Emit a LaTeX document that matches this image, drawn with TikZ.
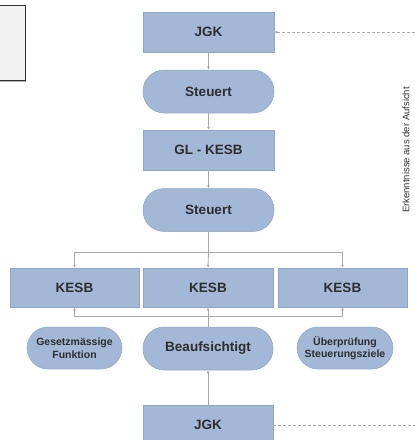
\documentclass[tikz,border=0pt]{standalone}
\usepackage{fontspec}
\setmainfont{Liberation Sans}
\usetikzlibrary{arrows.meta}
\definecolor{boxfill}{HTML}{A3B7D6}
\definecolor{boxedge}{HTML}{8FA6CA}
\definecolor{txt}{HTML}{2E2E2E}
\definecolor{conn}{HTML}{A8A8A8}
\begin{document}
\begin{tikzpicture}[x=1pt,y=-1pt,
  base/.style={fill=boxfill,draw=boxedge,line width=0.5pt,text=txt,inner sep=0pt,align=center,font=\fontsize{13.5}{15}\selectfont\bfseries},
  rbox/.style={base,rectangle,minimum width=131pt,minimum height=40pt},
  pill/.style={base,rectangle,rounded corners=21pt,minimum width=131pt,minimum height=43pt},
  smallpill/.style={base,rectangle,rounded corners=21pt,minimum width=96pt,minimum height=42pt,font=\fontsize{10.5}{12.5}\selectfont\bfseries},
  conline/.style={draw=conn,line width=0.8pt},
  arr/.style={conline,-{Latex[length=3pt,width=3pt]}},
  dashline/.style={draw=conn,line width=0.8pt,dash pattern=on 3pt off 2pt}
]
\useasboundingbox (0,0) rectangle (415,440);
\clip (0,0) rectangle (415,440);
% top-left partial box
\fill[gray!60] (-5,7) rectangle (26,82);
\draw[fill=black!6,draw=black!80,line width=0.8pt] (-5,5) rectangle (25,80);

\node[rbox] (jgk1) at (208.5,32) {JGK};
\node[pill] (st1) at (208.5,91.5) {Steuert};
\node[rbox] (gl) at (208.5,150) {GL - KESB};
\node[pill] (st2) at (208.5,210) {Steuert};
\node[rbox,minimum width=129pt,minimum height=39pt] (kl) at (74.5,287.5) {KESB};
\node[rbox,minimum width=130pt,minimum height=39pt] (km) at (208,287.5) {KESB};
\node[rbox,minimum width=129pt,minimum height=39pt] (kr) at (342.5,287.5) {KESB};
\node[smallpill,minimum width=95pt] (ge) at (74.5,348) {Gesetzmässige\\Funktion};
\node[pill,minimum width=130pt] (be) at (208,348.5) {Beaufsichtigt};
\node[smallpill] (ue) at (345,348) {Überprüfung\\Steuerungsziele};
\node[rbox,minimum width=130pt] (jgk2) at (208,425) {JGK};

\node[rotate=90,text=txt,font=\fontsize{9.5}{10}\selectfont,inner sep=0pt] (erk) at (406,150) {Erkenntnisse aus der Aufsicht};

\coordinate (bus1) at (208.5,252);
\coordinate (bus2) at (208,316);
\coordinate (d1) at (420,32);
\coordinate (d2) at (420,425);

\draw[arr] (jgk1) -- (st1);
\draw[arr] (st1) -- (gl);
\draw[arr] (gl) -- (st2);
\draw[conline] (st2.south) -- (bus1);
\draw[arr] (bus1) -| (kl.north);
\draw[arr] (bus1) -| (kr.north);
\draw[arr] (bus1) -- (km.north);
\draw[arr] (be.north) -- (km.south);
\draw[arr] (bus2) -| (kl.south);
\draw[arr] (bus2) -| (kr.south);
\draw[arr] (jgk2.north) -- (be.south);
\draw[dashline,-{Latex[length=3pt,width=3pt]}] (d1) -- (jgk1.east);
\draw[dashline] (jgk2.east) -- (d2);
\end{tikzpicture}
\end{document}
